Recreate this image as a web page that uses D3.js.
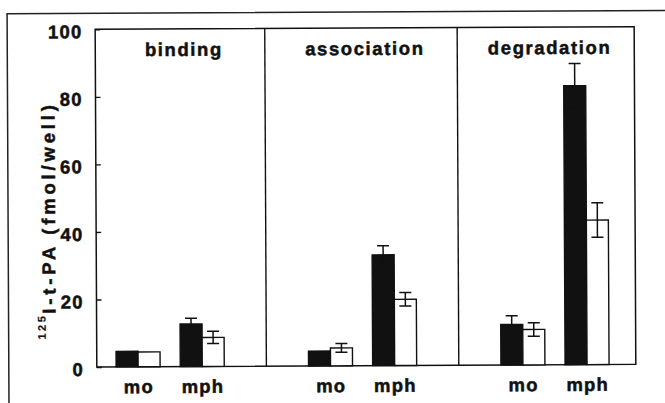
<!DOCTYPE html>
<html>
<head>
<meta charset="utf-8">
<script src="https://cdn.jsdelivr.net/npm/d3@7"></script>
<style>
  html, body { margin: 0; padding: 0; background: #fff; }
  svg { display: block; }
  text { font-family: "Liberation Sans", Arial, Helvetica, sans-serif; font-weight: bold; fill: #111; stroke: #111; stroke-width: 0.5px; }
</style>
</head>
<body>
<svg id="chart" width="665" height="403"></svg>
<script>
// Panels (assays) and cell types
const panels = ["binding", "association", "degradation"];
const groups = ["mo", "mph"];

// Mean values (fmol/well) and error, filled (black) bars
const filledMean = [[4.6, 12.6], [4.4, 32.8], [12.0, 82.6]];
const filledErr  = [[0, 1.7], [0, 2.7], [2.6, 6.6]];

// Mean values (fmol/well) and error, open (white) bars
const openMean = [[4.4, 8.6], [5.3, 19.6], [10.5, 42.8]];
const openErr  = [[0, 1.8], [1.3, 2.0], [2.0, 5.1]];

const yTicks = [0, 20, 40, 60, 80, 100];

// Layout
const plot = { left: 96, right: 635, top: 28, bottom: 365.7 };
const barW = 22, capW = 12;
const fs = 18.5, ls = 1.2;

const svg = d3.select("#chart");
// the whole figure sits very slightly rotated on the page
const root = svg.append("g").attr("transform", "rotate(-0.28 365 200)");

// outer frame (runs off the page on the right and bottom)
root.append("rect")
  .attr("x", 8).attr("y", 12).attr("width", 700).attr("height", 440)
  .attr("fill", "none").attr("stroke", "#222").attr("stroke-width", 1.5);

const y = d3.scaleLinear().domain([0, 100]).range([plot.bottom, plot.top]);
// slot index: panel * 3 + group, with an empty slot between panels
const xDomain = [-0.644, 7.76];
const x = d3.scaleLinear().domain(xDomain).range([plot.left, plot.right]);
const slot = (p, g) => p * 3 + g;
// panel extents in slot units (dividers sit on the empty slots)
const panelEdges = [xDomain[0], 2, 5, xDomain[1]];

// plot frame
root.append("rect")
  .attr("x", plot.left).attr("y", plot.top)
  .attr("width", plot.right - plot.left).attr("height", plot.bottom - plot.top)
  .attr("fill", "none").attr("stroke", "#111").attr("stroke-width", 1.5);

// panel dividers
[2, 5].forEach(s => {
  root.append("line")
    .attr("x1", x(s)).attr("x2", x(s))
    .attr("y1", plot.top).attr("y2", plot.bottom)
    .attr("stroke", "#111").attr("stroke-width", 1.4);
});

// y axis with inward ticks
const yAxis = d3.axisLeft(y).tickValues(yTicks).tickSizeInner(-5).tickSizeOuter(0).tickPadding(14);
const ag = root.append("g").attr("transform", `translate(${plot.left},0)`).call(yAxis);
ag.select(".domain").remove();
ag.selectAll(".tick line").attr("stroke", "#111").attr("stroke-width", 1.4);
ag.selectAll(".tick text")
  .attr("dy", "0.45em")
  .attr("x", -14 + ls)
  .style("font-size", fs + "px").style("letter-spacing", ls + "px")
  .style("font-family", '"Liberation Sans", Arial, sans-serif').style("font-weight", "bold")
  .attr("fill", "#111").attr("stroke", "#111").attr("stroke-width", 0.5);

// bars and error bars
const bars = [];
panels.forEach((pn, p) => groups.forEach((gn, g) => {
  bars.push({ p, g, side: -1, v: filledMean[p][g], e: filledErr[p][g], fill: "#111" });
  bars.push({ p, g, side: 1, v: openMean[p][g], e: openErr[p][g], fill: "#fff" });
}));

root.selectAll("rect.bar").data(bars).join("rect")
  .attr("class", "bar")
  .attr("x", d => d.side < 0 ? x(slot(d.p, d.g)) - barW : x(slot(d.p, d.g)))
  .attr("y", d => y(d.v))
  .attr("width", barW)
  .attr("height", d => y(0) - y(d.v))
  .attr("fill", d => d.fill)
  .attr("stroke", "#111").attr("stroke-width", 1.4);

const eb = root.selectAll("g.err").data(bars.filter(d => d.e > 0)).join("g").attr("class", "err")
  .attr("transform", d => `translate(${x(slot(d.p, d.g)) + d.side * barW / 2},0)`)
  .attr("stroke", "#111").attr("stroke-width", 1.5);
eb.append("line").attr("x1", 0).attr("x2", 0)
  .attr("y1", d => y(d.v + d.e)).attr("y2", d => y(d.v - d.e));
eb.append("line").attr("x1", -capW / 2).attr("x2", capW / 2)
  .attr("y1", d => y(d.v + d.e)).attr("y2", d => y(d.v + d.e));
eb.append("line").attr("x1", -capW / 2).attr("x2", capW / 2)
  .attr("y1", d => y(d.v - d.e)).attr("y2", d => y(d.v - d.e));

// panel titles, centred in each panel
const titleLs = ls + 0.4;
panels.forEach((pn, p) => {
  root.append("text")
    .attr("x", (x(panelEdges[p]) + x(panelEdges[p + 1])) / 2 + 3 + titleLs / 2)
    .attr("y", 55)
    .attr("text-anchor", "middle")
    .style("font-size", fs + "px").style("letter-spacing", titleLs + "px")
    .text(pn);
});

// group labels
panels.forEach((pn, p) => groups.forEach((gn, g) => {
  root.append("text")
    .attr("x", x(slot(p, g)) + ls / 2)
    .attr("y", 392)
    .attr("text-anchor", "middle")
    .style("font-size", fs + "px").style("letter-spacing", ls + "px")
    .text(gn);
}));

// y axis title with superscript isotope number
const yt = root.append("text")
  .attr("transform", "translate(55,338) rotate(-90)")
  .attr("text-anchor", "start");
yt.append("tspan").attr("dy", -10).style("font-size", "11px").style("letter-spacing", "2.5px")
  .style("stroke-width", "0.2px").text("125");
yt.append("tspan").attr("dy", 10).style("font-size", fs + "px").style("letter-spacing", "3.8px").text("I-t-PA (fmol/well)");
</script>
</body>
</html>
